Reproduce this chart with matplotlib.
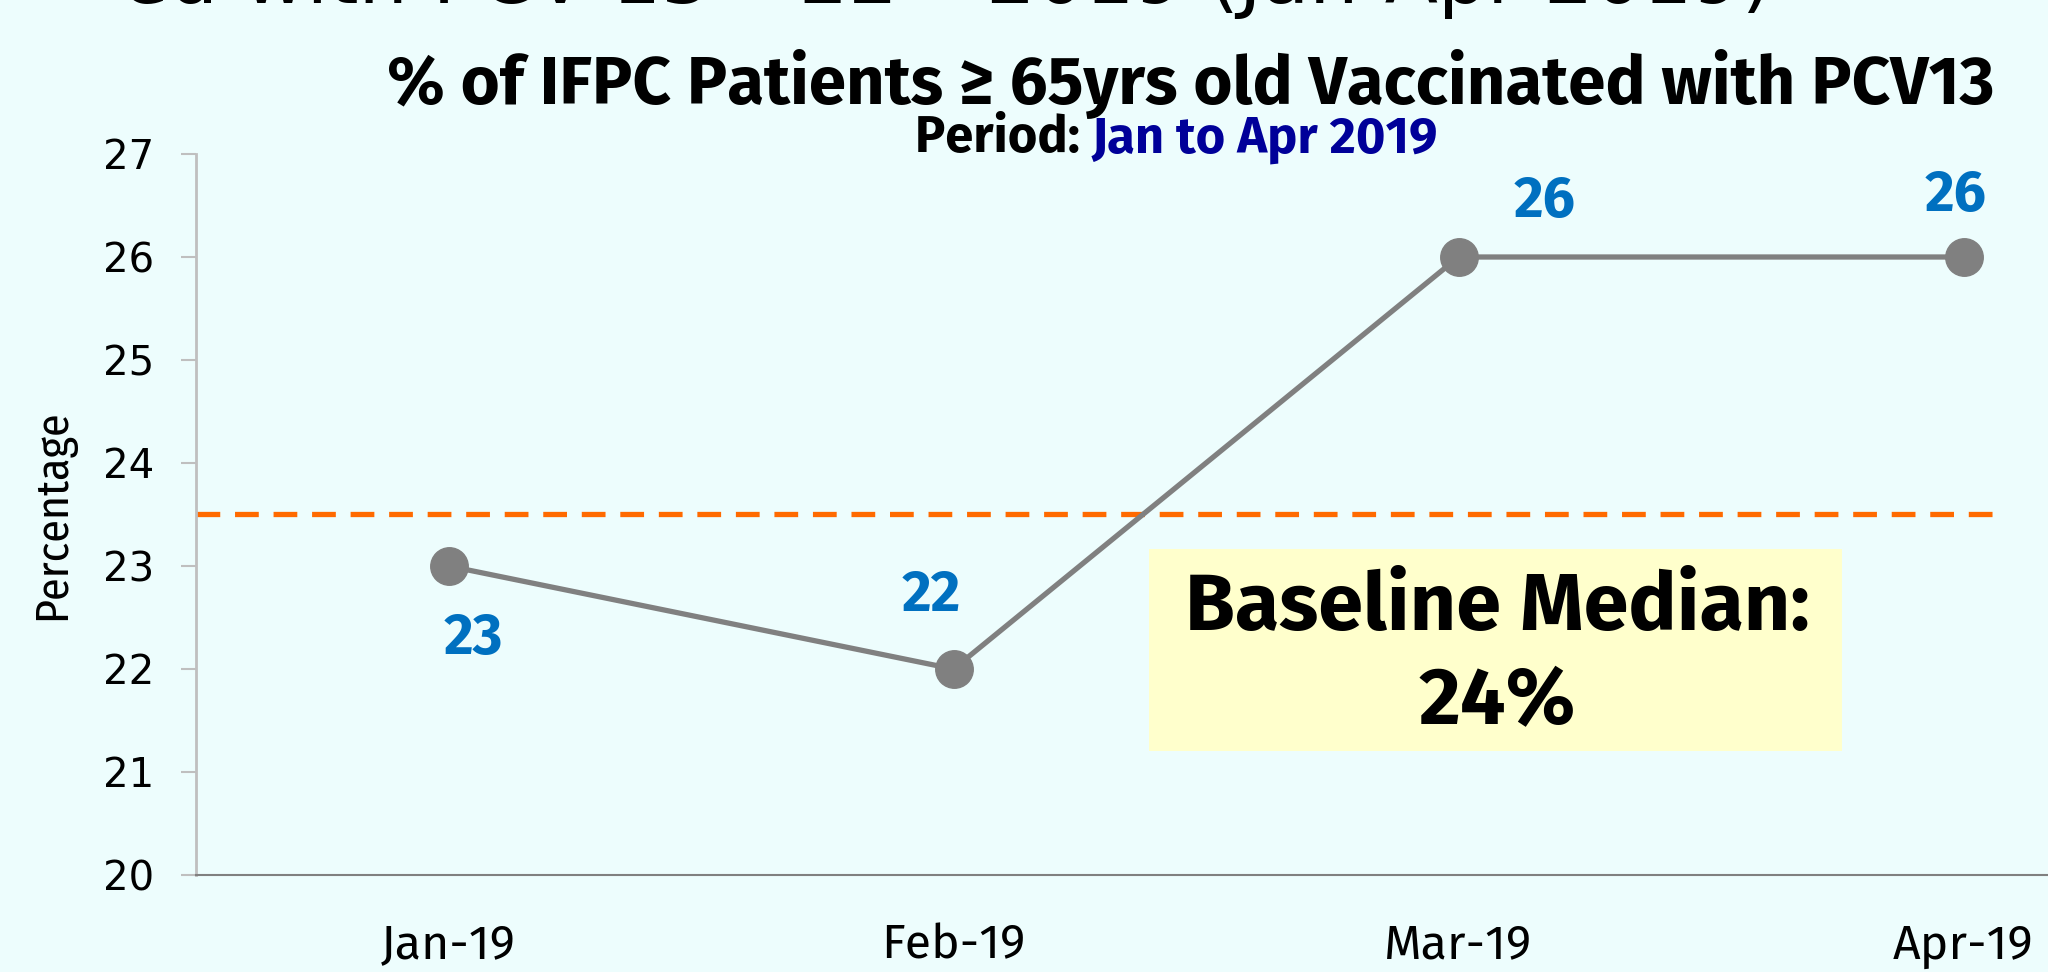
import matplotlib
matplotlib.use("Agg")
import matplotlib.pyplot as plt
from matplotlib.patches import Rectangle

# ---- data ----
categories = ["Jan-19", "Feb-19", "Mar-19", "Apr-19"]
values = [23, 22, 26, 26]
baseline_median = 23.5
y_ticks = [20, 21, 22, 23, 24, 25, 26, 27]
title = "% of IFPC Patients \u2265 65yrs old Vaccinated with PCV13"
sub_a = "Period: "
sub_b = "Jan to Apr 2019"
box_text = "Baseline Median:\n24%"
top_text = "ed with PCV 13 \u2013 22 \u2013 2019 (Jan-Apr 2019)"

W, H, DPI = 2048, 972, 100
bg = "#EDFDFD"
narrow = ["Fira Sans Condensed", "DejaVu Sans"]
sans = ["Fira Sans", "DejaVu Sans"]

fig = plt.figure(figsize=(W / DPI, H / DPI), dpi=DPI, facecolor=bg)
renderer = fig.canvas.get_renderer()


def fx(px):
    return px / W


def fy(py):
    return 1 - py / H


def fit_size(text, family, weight, target_w, base=40):
    t = fig.text(0, 0, text, fontsize=base, family=family, fontweight=weight)
    w = t.get_window_extent(renderer).width
    t.remove()
    return base * target_w / w


# axes: x=-0.5 at 196px, spacing 505 px; y=20 at 875, y=27 at 154
left, right = 196, 196 + 505 * 4
bottom, top = 875, 154
ax = fig.add_axes([fx(left), fy(bottom), (right - left) / W, (bottom - top) / H])
ax.set_facecolor(bg)
ax.set_xlim(-0.5, 3.5)
ax.set_ylim(20, 27)

x = list(range(len(categories)))

# baseline median dashed line
ax.plot([-0.5, 3.08], [baseline_median, baseline_median], color="#FF6A00",
        lw=3.8, dashes=(4.5, 2.8), zorder=2, solid_capstyle="butt")

# series
ax.plot(x, values, color="#808080", lw=3.8, marker="o", markersize=27,
        markerfacecolor="#808080", markeredgecolor="#808080", zorder=3)

lab_size = fit_size("26", sans, "bold", 62)
offsets = [(25, -73), (-22, 73), (86, 55), (-8, 61)]
for xi, v, off in zip(x, values, offsets):
    ax.annotate(str(v), (xi, v), xytext=off, textcoords="offset pixels",
                ha="center", va="center", fontsize=lab_size, fontweight="bold",
                color="#0070C0", family=sans)

ax.set_yticks(y_ticks)
ax.set_yticklabels([str(t) for t in y_ticks], fontsize=29, family=["DejaVu Sans"])
ax.set_xticks(x)
xt_size = fit_size("Jan-19", sans, "normal", 135)
ax.set_xticklabels(categories, fontsize=xt_size, family=sans)
ax.tick_params(axis="y", length=11, width=1.5, color="#BFBFBF", pad=19)
ax.tick_params(axis="x", length=0, pad=34)
for s in ["top", "right"]:
    ax.spines[s].set_visible(False)
ax.spines["left"].set_color("#BFBFBF")
ax.spines["left"].set_linewidth(2)
ax.spines["bottom"].set_color("#808080")
ax.spines["bottom"].set_linewidth(1.5)
ax.set_ylabel("Percentage", fontsize=33, family=narrow)
ax.yaxis.set_label_coords((75 - left) / (right - left), 0.5)

# baseline box
bx0, by0, bx1, by1 = 1149, 549, 1842, 751
fig.patches.append(Rectangle((fx(bx0), fy(by1)), (bx1 - bx0) / W, (by1 - by0) / H,
                             transform=fig.transFigure, facecolor="#FFFFCC",
                             edgecolor="none", zorder=1))
box_size = fit_size(box_text.split("\n")[0], sans, "bold", 625)
fig.text(fx(1497), fy(655), box_text, ha="center", va="center", fontsize=box_size,
         fontweight="bold", family=sans, linespacing=1.25, zorder=5)

# titles
title_size = fit_size(title, sans, "bold", 1691) * 0.95
fig.text(fx(1191), fy(84), title, ha="center", va="center", fontsize=title_size,
         fontweight="bold", family=sans)
sub_size = fit_size(sub_a + sub_b, sans, "bold", 563) * 0.93
t1 = fig.text(fx(915), fy(139), sub_a, ha="left", va="center", fontsize=sub_size,
              fontweight="bold", family=sans)
bb = t1.get_window_extent(renderer)
fig.text(bb.x1 / W, fy(139), sub_b, ha="left", va="center", fontsize=sub_size,
         fontweight="bold", family=sans, color="#000099")

# partially cut top text
fig.text(fx(1772), fy(3), top_text, ha="right", va="baseline", fontsize=56,
         family=["DejaVu Sans"])

fig.savefig("out.png", dpi=DPI, facecolor=bg)
